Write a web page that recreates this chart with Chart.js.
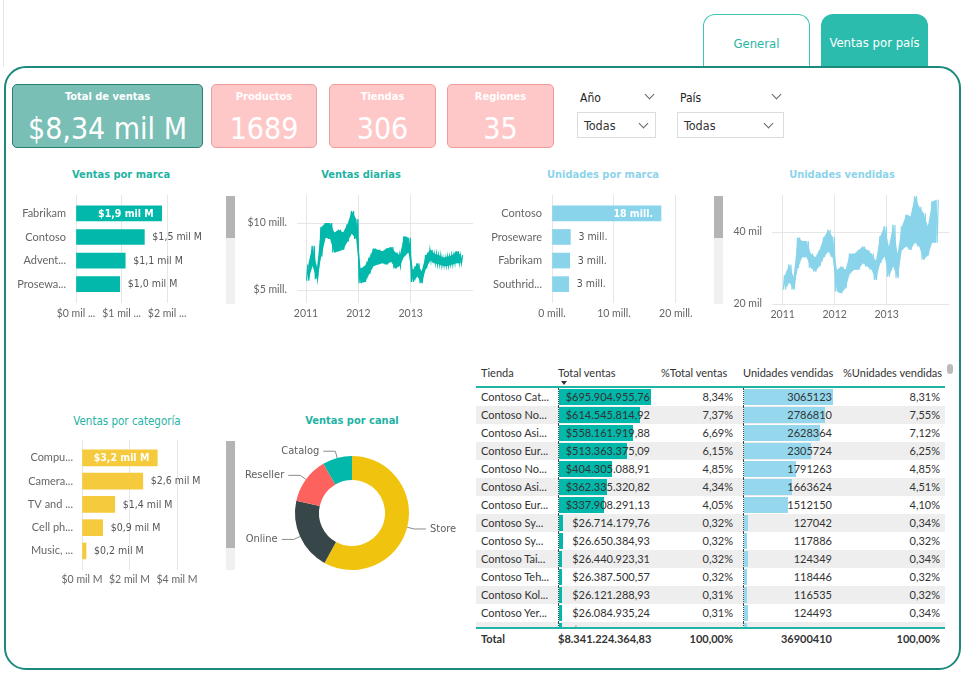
<!DOCTYPE html>
<html lang="es">
<head>
<meta charset="utf-8">
<title>Ventas por país</title>
<script src="https://cdn.jsdelivr.net/npm/chart.js@4.4.1/dist/chart.umd.min.js"></script>
<style>
  html, body { margin: 0; padding: 0; background: #fff; }
  body { width: 980px; height: 679px; position: relative; overflow: hidden; font-family: Lato, 'Open Sans', sans-serif; }
  .abs { position: absolute; }
  .din { font-family: 'DejaVu Sans Condensed', 'Liberation Sans Narrow', sans-serif; }
  .tab { position: absolute; top: 14px; height: 53px; box-sizing: border-box; border-radius: 12px 12px 0 0;
         font-size: 13px; text-align: center; line-height: 58px; }
  #panel { left: 4px; top: 66px; width: 957px; height: 604px; box-sizing: border-box;
           border: 2px solid #1b8a7c; border-radius: 22px; }
  .kpi { position: absolute; top: 84px; height: 64px; box-sizing: border-box; border-radius: 5px; color: #fff; text-align: center; }
  .kpi .t { position: absolute; left: 0; right: 0; top: 4px; font-size: 11px; font-weight: bold; line-height: 16px; }
  .kpi .v { position: absolute; left: 0; right: 0; top: 25px; font-size: 30px; line-height: 38px; }
  .rosa { background: #ffc8c8; border: 1px solid #f39b9b; }
  .slab { position: absolute; top: 90px; font-size: 12px; color: #222; line-height: 16px; }
  .sbox { position: absolute; top: 112px; height: 26px; box-sizing: border-box; border: 1px solid #dcdcdc; background: #fff;
          font-size: 12.5px; color: #333; line-height: 26px; padding-left: 6px; }
  .chev { position: absolute; width: 6px; height: 6px; border-right: 1px solid #666; border-bottom: 1px solid #666; transform: rotate(45deg); }
  .ttl { position: absolute; width: 220px; height: 16px; line-height: 16px; text-align: center; font-size: 11px; font-weight: bold; }
  canvas { position: absolute; }
  .sb { position: absolute; width: 9px; background: #f0f0f0; }
  .sb i { position: absolute; left: 0; top: 0; width: 9px; background: #b4b4b4; }
  #tabla { left: 476px; top: 362px; width: 469px; font-size: 11px; color: #333; }
  .grid { display: grid; grid-template-columns: 82px 93px 92px 92px 110px; }
  .cab { height: 24px; border-bottom: 2px solid #1fb5a5; }
  .cab div { padding-top: 4px; line-height: 14px; white-space: nowrap; position: relative; }
  .flecha { position: absolute; left: 3px; top: 19px; width: 0; height: 0; border-left: 3.5px solid transparent;
            border-right: 3.5px solid transparent; border-top: 4px solid #333; }
  #cuerpo { height: 239px; overflow: hidden; }
  .fila { height: 18px; line-height: 18px; }
  .fila.par { background: #eeeeee; }
  .fila div { white-space: nowrap; position: relative; }
  .c1 { padding-left: 5px; }
  .num { text-align: right; }
  .bcol { border-left: 1px dotted #444; }
  .bar { position: absolute; left: 0; top: 1px; bottom: 1px; }
  .txt { position: relative; }
  .tot { height: 22px; line-height: 20px; border-top: 2px solid #1fb5a5; font-weight: bold; }
</style>
</head>
<body>
<div class="abs" style="left:3px;top:0;width:1px;height:67px;background:#e4e4e4"></div>
<div class="tab din" style="left:703px;width:107px;border:1px solid #3fc4b5;border-bottom:none;background:#fff;color:#2bb5a5">General</div>
<div class="tab din" style="left:821px;width:107px;background:#2bbcad;color:#fff">Ventas por país</div>
<div id="panel" class="abs"></div>

<div class="kpi din" style="left:12px;width:191px;background:#79bfb5;border:1.5px solid #2e7d72">
  <div class="t">Total de ventas</div><div class="v" id="kTotal"></div></div>
<div class="kpi din rosa" style="left:211px;width:106px"><div class="t">Productos</div><div class="v" id="kProd"></div></div>
<div class="kpi din rosa" style="left:329px;width:107px"><div class="t">Tiendas</div><div class="v" id="kTiendas"></div></div>
<div class="kpi din rosa" style="left:447px;width:107px"><div class="t">Regiones</div><div class="v" id="kRegiones"></div></div>

<div class="slab din" style="left:580px">Año</div>
<div class="chev" style="left:646px;top:91px"></div>
<div class="sbox din" style="left:577px;width:79px">Todas</div>
<div class="chev" style="left:640px;top:120px"></div>
<div class="slab din" style="left:680px">País</div>
<div class="chev" style="left:773px;top:91px"></div>
<div class="sbox din" style="left:677px;width:107px">Todas</div>
<div class="chev" style="left:765px;top:120px"></div>

<div class="ttl din" style="left:11px;top:167px;color:#1fb3a3">Ventas por marca</div>
<div class="ttl din" style="left:251px;top:167px;color:#1fb3a3">Ventas diarias</div>
<div class="ttl din" style="left:493px;top:167px;color:#8dd4ea">Unidades por marca</div>
<div class="ttl din" style="left:732px;top:167px;color:#8dd4ea">Unidades vendidas</div>
<div class="ttl din" style="left:17px;top:413px;color:#1fb3a3;font-weight:normal;font-size:11.5px">Ventas por categoría</div>
<div class="ttl din" style="left:242px;top:413px;color:#1fb3a3">Ventas por canal</div>

<canvas id="cMarca" width="200" height="133" style="left:15px;top:195px"></canvas>
<canvas id="cDiarias" width="233" height="133" style="left:240px;top:195px"></canvas>
<canvas id="cUniMarca" width="210" height="133" style="left:490px;top:195px"></canvas>
<canvas id="cUniVend" width="219" height="133" style="left:730px;top:195px"></canvas>
<canvas id="cCategoria" width="193" height="150" style="left:22px;top:440px"></canvas>
<canvas id="cCanal" width="224" height="140" style="left:240px;top:440px"></canvas>

<div class="sb" style="left:226px;top:196px;height:108px"><i style="height:42px"></i></div>
<div class="sb" style="left:714px;top:196px;height:108px"><i style="height:42px"></i></div>
<div class="sb" style="left:226px;top:441px;height:129px"><i style="height:107px"></i></div>
<div class="abs" style="left:947px;top:364px;width:6px;height:10px;border-radius:3px;background:#bbb"></div>

<div id="tabla" class="abs">
  <div class="grid cab">
    <div style="padding-left:5px">Tienda</div>
    <div>Total ventas<span class="flecha"></span></div>
    <div style="padding-left:10px">%Total ventas</div>
    <div>Unidades vendidas</div>
    <div style="padding-left:8px">%Unidades vendidas</div>
  </div>
  <div id="cuerpo"></div>
  <div class="grid tot" id="total"></div>
</div>

<script>
// ===== fuentes =====
const DIN = "'DejaVu Sans Condensed', 'Liberation Sans Narrow', sans-serif";
const SEGOE = "Lato, 'Open Sans', sans-serif";

// ===== tarjetas =====
const kpiTotal = '$8,34 mil M';
const kpiProductos = 1689;
const kpiTiendas = 306;
const kpiRegiones = 35;

// ===== ventas por marca (mil M) =====
const marcaNombres = ['Fabrikam', 'Contoso', 'Advent...', 'Prosewa...'];
const marcaVentas = [1.88, 1.50, 1.08, 0.96];
const marcaTicks = [0, 1, 2];
const marcaTickLabels = ['$0 mil ...', '$1 mil ...', '$2 mil ...'];

// ===== unidades por marca (mill.) =====
const uniMarcaNombres = ['Contoso', 'Proseware', 'Fabrikam', 'Southrid...'];
const uniMarcaValores = [17.6, 2.97, 2.86, 2.7];
const uniMarcaTicks = [0, 10, 20];
const uniMarcaTickLabels = ['0 mill.', '10 mill.', '20 mill.'];

// ===== ventas por categoría (mil M) =====
const categoriaNombres = ['Compu...', 'Camera...', 'TV and ...', 'Cell ph...', 'Music, ...'];
const categoriaVentas = [3.17, 2.56, 1.38, 0.87, 0.17];
const categoriaTicks = [0, 2, 4];
const categoriaTickLabels = ['$0 mil M', '$2 mil M', '$4 mil M'];

// ===== ventas por canal (mil M) =====
const canales = ['Store', 'Online', 'Reseller', 'Catalog'];
const canalVentas = [4.84, 1.70, 1.10, 0.70];
const canalColores = ['#f0c30f', '#374649', '#fd625e', '#01b8aa'];

// ===== series diarias: rango mensual (mín / máx), ene 2011 - dic 2013 =====
const anioInicio = 2011;
const anioTicks = [2011, 2012, 2013];
const ventasDiariasMax = [6.9, 8.3, 6.6, 9.7, 10.0, 10.0, 9.3, 9.5, 9.3, 9.9, 10.9, 10.3,
                          6.6, 6.8, 7.4, 8.1, 8.0, 7.9, 8.1, 8.2, 7.8, 7.6, 9.0, 8.9,
                          6.5, 7.0, 6.4, 7.6, 8.0, 7.7, 7.6, 7.4, 7.5, 7.6, 7.9, 7.6];
const ventasDiariasMin = [5.7, 6.8, 5.8, 7.5, 8.9, 8.8, 7.8, 7.9, 8.0, 8.6, 9.2, 8.8,
                          5.5, 5.6, 6.2, 6.8, 6.9, 7.0, 6.9, 7.1, 6.6, 6.8, 7.5, 7.8,
                          5.6, 6.0, 5.5, 6.6, 7.2, 7.0, 6.9, 6.8, 6.8, 6.9, 7.0, 7.0];
const ventasTicks = [5, 10];
const ventasTickLabels = ['$5 mill.', '$10 mill.'];

const uniVendMax = [28, 31, 27.5, 38.5, 37.5, 37.5, 34, 33, 35, 38.5, 40.6, 38.7,
                    29.5, 30.4, 29.5, 34, 34, 35, 36, 35, 34, 32, 38.8, 41.6,
                    36, 42, 34, 41.6, 44.8, 44.4, 50, 47, 45.3, 41.6, 48.5, 49];
const uniVendMin = [24, 26, 24, 30, 33, 33, 30, 29, 30.5, 33, 34.5, 33,
                    23.5, 23, 24.4, 28.5, 29.5, 29.5, 31.3, 30.4, 29.5, 26.7, 31.3, 33.2,
                    27.6, 30.4, 27.2, 35, 36, 35, 37, 36, 32.3, 33.5, 37, 37];
const uniVendTicks = [20, 40];
const uniVendTickLabels = ['20 mil', '40 mil'];

// ===== tabla de tiendas =====
const tiendas = ['Contoso Cat...', 'Contoso No...', 'Contoso Asi...', 'Contoso Eur...', 'Contoso No...',
                 'Contoso Asi...', 'Contoso Eur...', 'Contoso Sy...', 'Contoso Sy...', 'Contoso Tai...',
                 'Contoso Teh...', 'Contoso Kol...', 'Contoso Yer...', 'Contoso ...'];
const tiendaVentas = [695904955.76, 614545814.92, 558161919.88, 513363375.09, 404305088.91,
                      362335320.82, 337908291.13, 26714179.76, 26650384.93, 26440923.31,
                      26387500.57, 26121288.93, 26084935.24, 26000000.00];
const tiendaPctVentas = [8.34, 7.37, 6.69, 6.15, 4.85, 4.34, 4.05, 0.32, 0.32, 0.32, 0.32, 0.31, 0.31, 0.31];
const tiendaUnidades = [3065123, 2786810, 2628364, 2305724, 1791263, 1663624, 1512150,
                        127042, 117886, 124349, 118446, 116535, 124493, 120000];
const tiendaPctUnidades = [8.31, 7.55, 7.12, 6.25, 4.85, 4.51, 4.10, 0.34, 0.32, 0.34, 0.32, 0.32, 0.34, 0.33];
const totalVentas = 8341224364.83;
const totalUnidades = 36900410;

// ===== tarjetas =====
document.getElementById('kTotal').textContent = kpiTotal;
document.getElementById('kProd').textContent = kpiProductos;
document.getElementById('kTiendas').textContent = kpiTiendas;
document.getElementById('kRegiones').textContent = kpiRegiones;

// ===== ayudas para Chart.js =====
Chart.defaults.animation = false;
Chart.defaults.devicePixelRatio = 1;
Chart.defaults.responsive = false;
Chart.defaults.plugins.legend.display = false;
Chart.defaults.plugins.tooltip.enabled = false;

const sinComa = v => v.toFixed(1).replace('.', ',');
const fmtMilM = v => '$' + sinComa(v) + ' mil M';
const fmtMill = v => Math.round(v) + ' mill.';

function ejeCategorias(nombres, min, max, ancho, pad) {
    return {
        type: 'linear', reverse: true, min, max, offset: false,
        afterBuildTicks: s => { s.ticks = nombres.map((_, i) => ({ value: i })); },
        afterFit: s => { s.width = ancho; s.paddingTop = 0; s.paddingBottom = 0; },
        grid: { display: false, drawTicks: false }, border: { display: false },
        ticks: { autoSkip: false, padding: pad, color: '#666', font: { family: SEGOE, size: 11 },
                 callback: (v, i) => nombres[i] }
    };
}

function ejeX(min, max, valores, etiquetas, alto, pad) {
    return {
        type: 'linear', min, max, offset: false,
        afterBuildTicks: s => { s.ticks = valores.map(v => ({ value: v })); },
        afterFit: s => { s.height = alto; s.paddingLeft = 0; s.paddingRight = 0; },
        grid: { color: '#e6e6e6', drawTicks: false }, border: { display: false },
        ticks: { autoSkip: false, maxRotation: 0, padding: pad, color: '#666', font: { family: SEGOE, size: 10.5 },
                 callback: (v, i) => etiquetas[i] }
    };
}

function ejeY(min, max, valores, etiquetas, ancho, pad) {
    return {
        type: 'linear', min, max,
        afterBuildTicks: s => { s.ticks = valores.map(v => ({ value: v })); },
        afterFit: s => { s.width = ancho; s.paddingTop = 0; s.paddingBottom = 0; },
        grid: { color: '#e6e6e6', drawTicks: false }, border: { display: false },
        ticks: { autoSkip: false, padding: pad, color: '#666', font: { family: SEGOE, size: 10.5 },
                 callback: (v, i) => etiquetas[i] }
    };
}

// etiquetas de datos: dentro de la barra mayor, fuera en las demás
const etiquetasBarras = {
    id: 'etiquetasBarras',
    afterDatasetsDraw(chart, args, opts) {
        const { ctx } = chart;
        const valores = chart.data.datasets[0].data.map(d => d.x);
        const mayor = Math.max(...valores);
        ctx.save();
        ctx.textBaseline = 'middle';
        chart.getDatasetMeta(0).data.forEach((bar, i) => {
            const txt = opts.formato(valores[i]);
            if (valores[i] === mayor) {
                ctx.font = 'bold 10.5px ' + DIN;
                ctx.fillStyle = '#fff';
                ctx.textAlign = 'right';
                ctx.fillText(txt, bar.x - 8, bar.y + 0.5);
            } else {
                ctx.font = '10.5px ' + DIN;
                ctx.fillStyle = '#555';
                ctx.textAlign = 'left';
                ctx.fillText(txt, bar.x + 8, bar.y + 0.5);
            }
        });
        ctx.restore();
    }
};

function barrasH(id, nombres, valores, color, grosor, yMin, yMax, yAncho, yPad, xMax, ticks, tickLabels, xAlto, xPad, formato) {
    return new Chart(document.getElementById(id), {
        type: 'bar',
        data: { datasets: [{ data: valores.map((v, i) => ({ x: v, y: i })), backgroundColor: color, barThickness: grosor }] },
        options: {
            indexAxis: 'y',
            layout: { padding: 0 },
            scales: { x: ejeX(0, xMax, ticks, tickLabels, xAlto, xPad), y: ejeCategorias(nombres, yMin, yMax, yAncho, yPad) },
            plugins: { etiquetasBarras: { formato } }
        },
        plugins: [etiquetasBarras]
    });
}

// banda entre el mínimo y el máximo leídos para cada mes, y un trazo que oscila entre ambos
function puntosMes(valores) {
    return valores.map((v, m) => ({ x: anioInicio + (m + 0.5) / 12, y: v }));
}
function zigzag(maximos, minimos) {
    const pts = [];
    maximos.forEach((hi, m) => {
        pts.push({ x: anioInicio + (m + 0.15) / 12, y: minimos[m] });
        pts.push({ x: anioInicio + (m + 0.4) / 12, y: hi });
        pts.push({ x: anioInicio + (m + 0.65) / 12, y: minimos[m] });
        pts.push({ x: anioInicio + (m + 0.9) / 12, y: hi });
    });
    return pts;
}

function lineaTiempo(id, maximos, minimos, color, xMin, xMax, yMin, yMax, yTicks, yLabels, yAncho, xAlto) {
    return new Chart(document.getElementById(id), {
        type: 'line',
        data: { datasets: [
            { data: puntosMes(maximos), borderWidth: 0, pointRadius: 0, tension: 0, fill: false },
            { data: puntosMes(minimos), borderWidth: 0, pointRadius: 0, tension: 0, fill: '-1', backgroundColor: color },
            { data: zigzag(maximos, minimos), borderColor: color, borderWidth: 1.2, pointRadius: 0, tension: 0, fill: false }
        ] },
        options: {
            layout: { padding: 0 },
            scales: {
                x: ejeX(xMin, xMax, anioTicks, anioTicks.map(String), xAlto, 4),
                y: ejeY(yMin, yMax, yTicks, yLabels, yAncho, 10)
            }
        }
    });
}

// ===== gráficos =====
barrasH('cMarca', marcaNombres, marcaVentas, '#01b8aa', 15, -0.78, 3.8, 61, 10, 3.05,
        marcaTicks, marcaTickLabels, 25, 4, fmtMilM);
barrasH('cUniMarca', uniMarcaNombres, uniMarcaValores, '#8ad4eb', 15, -0.78, 3.8, 62, 10, 23.9,
        uniMarcaTicks, uniMarcaTickLabels, 25, 4, fmtMill);
barrasH('cCategoria', categoriaNombres, categoriaVentas, '#f5ca3c', 16, -0.77, 4.82, 60, 9, 5.6,
        categoriaTicks, categoriaTickLabels, 20, 3, fmtMilM);

lineaTiempo('cDiarias', ventasDiariasMax, ventasDiariasMin, '#01b8aa', 2010.828, 2014.19, 4.03, 12.09,
            ventasTicks, ventasTickLabels, 57, 25);
lineaTiempo('cUniVend', uniVendMax, uniVendMin, '#8ad4eb', 2010.794, 2014.198, 20, 50.3,
            uniVendTicks, uniVendTickLabels, 42, 24);

// etiquetas del anillo con líneas guía
const etiquetasCanal = {
    id: 'etiquetasCanal',
    afterDatasetsDraw(chart) {
        const { ctx } = chart;
        ctx.save();
        ctx.font = '11px ' + DIN;
        ctx.fillStyle = '#605e5c';
        ctx.strokeStyle = '#8c8c8c';
        ctx.lineWidth = 1;
        ctx.textBaseline = 'middle';
        chart.getDatasetMeta(0).data.forEach((arc, i) => {
            const mid = (arc.startAngle + arc.endAngle) / 2;
            const r = arc.outerRadius;
            const x0 = arc.x + Math.cos(mid) * r, y0 = arc.y + Math.sin(mid) * r;
            const x1 = arc.x + Math.cos(mid) * (r + 7), y1 = arc.y + Math.sin(mid) * (r + 7);
            const der = Math.cos(mid) >= 0;
            const x2 = x1 + (der ? 12 : -12);
            ctx.beginPath();
            ctx.moveTo(x0, y0); ctx.lineTo(x1, y1); ctx.lineTo(x2, y1);
            ctx.stroke();
            ctx.textAlign = der ? 'left' : 'right';
            ctx.fillText(chart.data.labels[i], x2 + (der ? 4 : -4), y1);
        });
        ctx.restore();
    }
};

new Chart(document.getElementById('cCanal'), {
    type: 'doughnut',
    data: { labels: canales, datasets: [{ data: canalVentas, backgroundColor: canalColores, borderWidth: 0 }] },
    options: { cutout: '58%', layout: { padding: { top: 16, bottom: 10 } } },
    plugins: [etiquetasCanal]
});

// ===== tabla =====
function fmtDinero(v) {
    const [ent, dec] = v.toFixed(2).split('.');
    return '$' + ent.replace(/\B(?=(\d{3})+(?!\d))/g, '.') + ',' + dec;
}
const fmtPct = v => v.toFixed(2).replace('.', ',') + '%';

const maxVentas = Math.max(...tiendaVentas);
const maxUnidades = Math.max(...tiendaUnidades);
const cuerpo = document.getElementById('cuerpo');
tiendas.forEach((t, i) => {
    const fila = document.createElement('div');
    fila.className = 'grid fila' + (i % 2 ? ' par' : '');
    fila.innerHTML =
        `<div class="c1">${t}</div>` +
        `<div class="num bcol" style="padding-right:1px"><span class="bar" style="background:#01b8aa;width:${tiendaVentas[i] / maxVentas * 92}px"></span><span class="txt">${fmtDinero(tiendaVentas[i])}</span></div>` +
        `<div class="num" style="padding-right:10px">${fmtPct(tiendaPctVentas[i])}</div>` +
        `<div class="num bcol" style="padding-right:3px"><span class="bar" style="background:#95d8ee;width:${tiendaUnidades[i] / maxUnidades * 89}px"></span><span class="txt">${tiendaUnidades[i]}</span></div>` +
        `<div class="num" style="padding-right:5px">${fmtPct(tiendaPctUnidades[i])}</div>`;
    cuerpo.appendChild(fila);
});
document.getElementById('total').innerHTML =
    `<div class="c1">Total</div>` +
    `<div class="num" style="padding-right:1px">${fmtDinero(totalVentas)}</div>` +
    `<div class="num" style="padding-right:10px">${fmtPct(100)}</div>` +
    `<div class="num" style="padding-right:3px">${totalUnidades}</div>` +
    `<div class="num" style="padding-right:5px">${fmtPct(100)}</div>`;
</script>
</body>
</html>
